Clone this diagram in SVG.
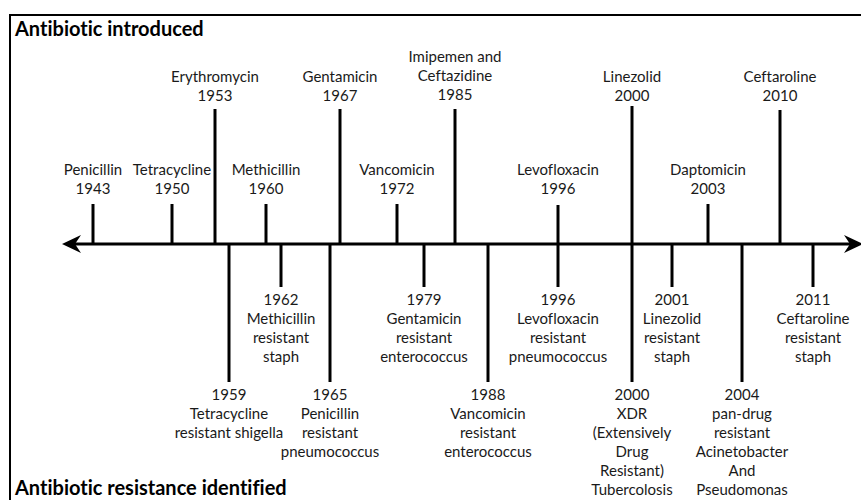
<svg xmlns="http://www.w3.org/2000/svg" width="861" height="500" viewBox="0 0 861 500">
<style>
text{font-family:Lato,"Liberation Sans",sans-serif;font-size:15px;fill:#1a1a1a;text-anchor:middle;font-variant-ligatures:none}
.title{font-weight:bold;font-size:20px;text-anchor:start;fill:#000}
.tick{stroke:#000;stroke-width:3;fill:none}
.frame{stroke:#000;stroke-width:2;fill:none}
</style>
<rect width="861" height="500" fill="#fff"/>
<path class="frame" d="M10,500 V15 H861"/>
<text class="title" x="15" y="36">Antibiotic introduced</text>
<text class="title" x="15" y="495">Antibiotic resistance identified</text>
<g id="connectors">
<line class="tick" x1="72" y1="244" x2="852" y2="244"/>
<path d="M62,244 L81,235 L75,244 L81,253 Z" fill="#000"/>
<path d="M863,244 L844,235 L850,244 L844,253 Z" fill="#000"/>
<line class="tick" x1="93" y1="204" x2="93" y2="244"/>
<line class="tick" x1="172" y1="204" x2="172" y2="244"/>
<line class="tick" x1="215" y1="109" x2="215" y2="244"/>
<line class="tick" x1="266" y1="204" x2="266" y2="244"/>
<line class="tick" x1="340" y1="109" x2="340" y2="244"/>
<line class="tick" x1="397" y1="204" x2="397" y2="244"/>
<line class="tick" x1="455" y1="109" x2="455" y2="244"/>
<line class="tick" x1="558" y1="205" x2="558" y2="244"/>
<line class="tick" x1="632" y1="106" x2="632" y2="244"/>
<line class="tick" x1="708" y1="204" x2="708" y2="244"/>
<line class="tick" x1="780" y1="110" x2="780" y2="244"/>
<line class="tick" x1="229" y1="244" x2="229" y2="382"/>
<line class="tick" x1="281" y1="244" x2="281" y2="287"/>
<line class="tick" x1="330" y1="244" x2="330" y2="382"/>
<line class="tick" x1="424" y1="244" x2="424" y2="287"/>
<line class="tick" x1="488" y1="244" x2="488" y2="382"/>
<line class="tick" x1="558" y1="244" x2="558" y2="287"/>
<line class="tick" x1="632" y1="244" x2="632" y2="382"/>
<line class="tick" x1="672" y1="244" x2="672" y2="287"/>
<line class="tick" x1="742" y1="244" x2="742" y2="382"/>
<line class="tick" x1="813" y1="244" x2="813" y2="287"/>
</g>
<g id="penicillin"><text x="93" y="175">Penicillin</text><text x="93" y="194">1943</text></g>
<g id="tetracycline"><text x="172" y="175">Tetracycline</text><text x="172" y="194">1950</text></g>
<g id="erythromycin"><text x="215" y="82">Erythromycin</text><text x="215" y="101">1953</text></g>
<g id="methicillin"><text x="266" y="175">Methicillin</text><text x="266" y="194">1960</text></g>
<g id="gentamicin"><text x="340" y="82">Gentamicin</text><text x="340" y="101">1967</text></g>
<g id="vancomicin"><text x="397" y="175">Vancomicin</text><text x="397" y="194">1972</text></g>
<g id="imipemen"><text x="455" y="62">Imipemen and</text><text x="455" y="81">Ceftazidine</text><text x="455" y="100">1985</text></g>
<g id="levofloxacin"><text x="558" y="175">Levofloxacin</text><text x="558" y="194">1996</text></g>
<g id="linezolid"><text x="632" y="82">Linezolid</text><text x="632" y="101">2000</text></g>
<g id="daptomicin"><text x="708" y="175">Daptomicin</text><text x="708" y="194">2003</text></g>
<g id="ceftaroline"><text x="780" y="82">Ceftaroline</text><text x="780" y="101">2010</text></g>
<g id="r1959"><text x="229" y="400">1959</text><text x="229" y="419">Tetracycline</text><text x="229" y="438">resistant shigella</text></g>
<g id="r1962"><text x="281" y="305">1962</text><text x="281" y="324">Methicillin</text><text x="281" y="343">resistant</text><text x="281" y="362">staph</text></g>
<g id="r1965"><text x="330" y="400">1965</text><text x="330" y="419">Penicillin</text><text x="330" y="438">resistant</text><text x="330" y="457">pneumococcus</text></g>
<g id="r1979"><text x="424" y="305">1979</text><text x="424" y="324">Gentamicin</text><text x="424" y="343">resistant</text><text x="424" y="362">enterococcus</text></g>
<g id="r1988"><text x="488" y="400">1988</text><text x="488" y="419">Vancomicin</text><text x="488" y="438">resistant</text><text x="488" y="457">enterococcus</text></g>
<g id="r1996"><text x="558" y="305">1996</text><text x="558" y="324">Levofloxacin</text><text x="558" y="343">resistant</text><text x="558" y="362">pneumococcus</text></g>
<g id="r2000"><text x="632" y="400">2000</text><text x="632" y="419">XDR</text><text x="632" y="438">(Extensively</text><text x="632" y="457">Drug</text><text x="632" y="476">Resistant)</text><text x="632" y="495">Tubercolosis</text></g>
<g id="r2001"><text x="672" y="305">2001</text><text x="672" y="324">Linezolid</text><text x="672" y="343">resistant</text><text x="672" y="362">staph</text></g>
<g id="r2004"><text x="742" y="400">2004</text><text x="742" y="419">pan-drug</text><text x="742" y="438">resistant</text><text x="742" y="457">Acinetobacter</text><text x="742" y="476">And</text><text x="742" y="495">Pseudomonas</text></g>
<g id="r2011"><text x="813" y="305">2011</text><text x="813" y="324">Ceftaroline</text><text x="813" y="343">resistant</text><text x="813" y="362">staph</text></g>
</svg>
